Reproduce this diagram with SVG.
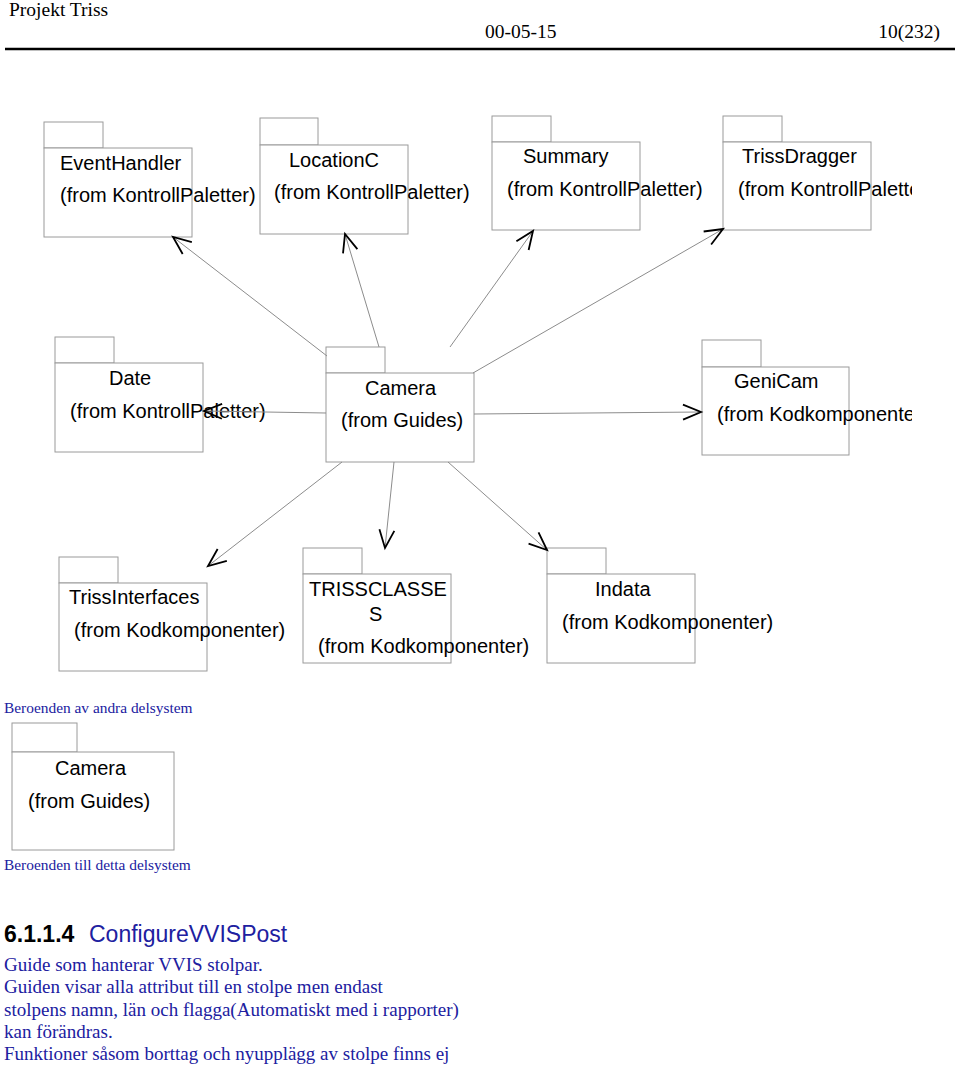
<svg xmlns="http://www.w3.org/2000/svg" width="960" height="1067" viewBox="0 0 960 1067">
<style>
.box{fill:#fff;stroke:#9a9a9a;stroke-width:1}
.pt{font-family:"Liberation Sans",Arial,sans-serif;font-size:20px;fill:#000}
.hd{font-family:"Liberation Serif","Times New Roman",serif;font-size:19.5px;fill:#000}
.bl{font-family:"Liberation Serif","Times New Roman",serif;fill:#2020a0}
.con{stroke:#8c8c8c;stroke-width:1;fill:none;marker-end:url(#ah)}
</style>
<defs>
<marker id="ah" markerUnits="userSpaceOnUse" markerWidth="26" markerHeight="24" viewBox="-22 -12 26 24" refX="0" refY="0" orient="auto">
<path d="M-18,-7.5 L0,0 L-18,7.5" fill="none" stroke="#000" stroke-width="1.8"/>
</marker>
<clipPath id="clipR"><rect x="0" y="0" width="912" height="1067"/></clipPath>
</defs>
<rect width="960" height="1067" fill="#fff"/>
<g id="header">
<text class="hd" x="9" y="16">Projekt Triss</text>
<text class="hd" x="485" y="38">00-05-15</text>
<text class="hd" x="940" y="38" text-anchor="end">10(232)</text>
<line x1="5" y1="49" x2="955" y2="49" stroke="#000" stroke-width="2.5"/>
</g>
<g id="EventHandler">
<rect class="box" x="44" y="122" width="59" height="26"/><rect class="box" x="44" y="148" width="148" height="89"/>
<text class="pt" x="60" y="170">EventHandler</text><text class="pt" x="60" y="202">(from KontrollPaletter)</text>
</g>
<g id="LocationC">
<rect class="box" x="260" y="118" width="58" height="27"/><rect class="box" x="260" y="145" width="148" height="89"/>
<text class="pt" x="289" y="167">LocationC</text><text class="pt" x="274" y="199">(from KontrollPaletter)</text>
</g>
<g id="Summary">
<rect class="box" x="492" y="116" width="59" height="26"/><rect class="box" x="492" y="142" width="148" height="88"/>
<text class="pt" x="523" y="163">Summary</text><text class="pt" x="507" y="196">(from KontrollPaletter)</text>
</g>
<g id="TrissDragger" clip-path="url(#clipR)">
<rect class="box" x="723" y="116" width="59" height="26"/><rect class="box" x="723" y="142" width="148" height="88"/>
<text class="pt" x="742" y="163">TrissDragger</text><text class="pt" x="738" y="196">(from KontrollPaletter)</text>
</g>
<g id="Date">
<rect class="box" x="55" y="337" width="59" height="26"/><rect class="box" x="55" y="363" width="148" height="89"/>
<text class="pt" x="109" y="385">Date</text><text class="pt" x="70" y="418">(from KontrollPaletter)</text>
</g>
<g id="Camera">
<rect class="box" x="326" y="347" width="59" height="26"/><rect class="box" x="326" y="373" width="148" height="89"/>
<text class="pt" x="365" y="395">Camera</text><text class="pt" x="341" y="427">(from Guides)</text>
</g>
<g id="GeniCam" clip-path="url(#clipR)">
<rect class="box" x="702" y="340" width="59" height="27"/><rect class="box" x="702" y="367" width="147" height="88"/>
<text class="pt" x="734" y="388">GeniCam</text><text class="pt" x="717" y="421">(from Kodkomponenter)</text>
</g>
<g id="TrissInterfaces">
<rect class="box" x="59" y="557" width="59" height="26"/><rect class="box" x="59" y="583" width="148" height="88"/>
<text class="pt" x="69" y="604">TrissInterfaces</text><text class="pt" x="74" y="637">(from Kodkomponenter)</text>
</g>
<g id="TRISSCLASSES">
<rect class="box" x="303" y="548" width="59" height="26"/><rect class="box" x="303" y="574" width="148" height="89"/>
<text class="pt" x="309" y="596">TRISSCLASSE</text><text class="pt" x="369" y="621">S</text><text class="pt" x="318" y="653">(from Kodkomponenter)</text>
</g>
<g id="Indata">
<rect class="box" x="547" y="548" width="59" height="26"/><rect class="box" x="547" y="574" width="148" height="89"/>
<text class="pt" x="595" y="596">Indata</text><text class="pt" x="562" y="629">(from Kodkomponenter)</text>
</g>
<g id="connectors">
<line class="con" x1="327" y1="356" x2="173" y2="237"/>
<line class="con" x1="379" y1="347" x2="345" y2="234"/>
<line class="con" x1="450" y1="347" x2="533" y2="231"/>
<line class="con" x1="473" y1="373" x2="723" y2="229"/>
<line class="con" x1="326" y1="413" x2="204" y2="411"/>
<line class="con" x1="474" y1="414" x2="701" y2="412"/>
<line class="con" x1="342" y1="462" x2="208" y2="566"/>
<line class="con" x1="394" y1="462" x2="385" y2="548"/>
<line class="con" x1="448" y1="462" x2="547" y2="550"/>
</g>
<text class="bl" x="4" y="713" font-size="15.4">Beroenden av andra delsystem</text>
<g id="Camera2">
<rect class="box" x="12" y="723" width="65" height="29"/><rect class="box" x="12" y="752" width="162" height="98"/>
<text class="pt" x="55" y="775">Camera</text><text class="pt" x="28" y="808">(from Guides)</text>
</g>
<text class="bl" x="4" y="870" font-size="15.4">Beroenden till detta delsystem</text>
<g id="section">
<text x="4" y="942" font-family="Liberation Sans,Arial,sans-serif" font-size="23" font-weight="bold" fill="#000">6.1.1.4</text>
<text x="89" y="942" font-family="Liberation Sans,Arial,sans-serif" font-size="23" fill="#2020a0">ConfigureVVISPost</text>
<text class="bl" font-size="19" x="4" y="971">Guide som hanterar VVIS stolpar.</text>
<text class="bl" font-size="19" x="4" y="993">Guiden visar alla attribut till en stolpe men endast</text>
<text class="bl" font-size="19" x="4" y="1016">stolpens namn, län och flagga(Automatiskt med i rapporter)</text>
<text class="bl" font-size="19" x="4" y="1038">kan förändras.</text>
<text class="bl" font-size="19" x="4" y="1060">Funktioner såsom borttag och nyupplägg av stolpe finns ej</text>
</g>
</svg>
